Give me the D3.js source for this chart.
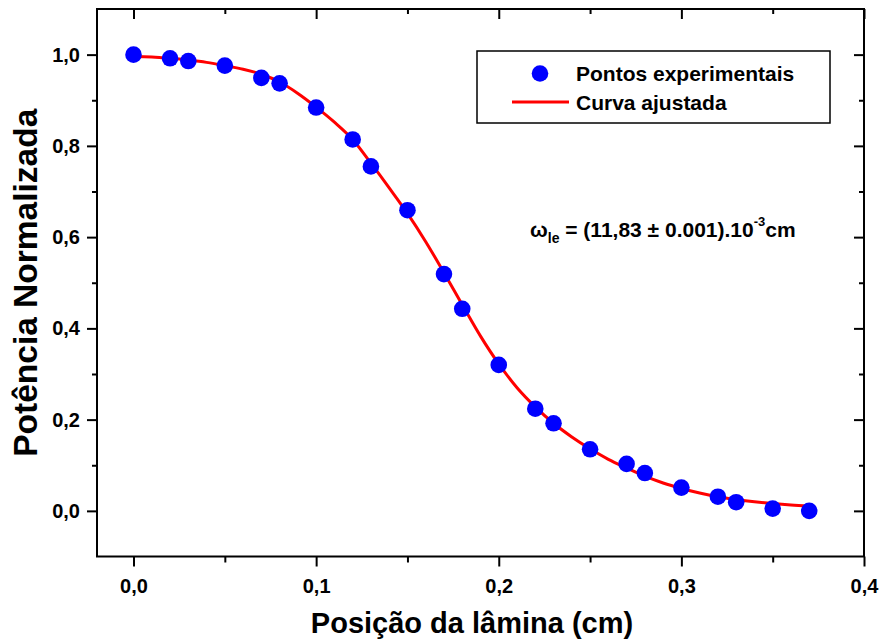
<!DOCTYPE html>
<html>
<head>
<meta charset="utf-8">
<script src="https://cdn.jsdelivr.net/npm/d3@7"></script>
<style>
  html, body { margin: 0; padding: 0; background: #fff; }
  svg { display: block; }
  text { font-family: "Liberation Sans", Arial, Helvetica, sans-serif; font-weight: bold; fill: #000; }
</style>
</head>
<body>
<svg id="chart" width="883" height="641"></svg>
<script>
// ---- data ----
const pointX = [0.00, 0.02, 0.03, 0.05, 0.07, 0.08, 0.10, 0.12, 0.13, 0.15, 0.17, 0.18,
                0.20, 0.22, 0.23, 0.25, 0.27, 0.28, 0.30, 0.32, 0.33, 0.35, 0.37];
const pointY = [1.000, 0.992, 0.986, 0.976, 0.949, 0.937, 0.884, 0.814, 0.755, 0.659, 0.519, 0.443,
                0.320, 0.224, 0.192, 0.135, 0.103, 0.083, 0.051, 0.031, 0.019, 0.005, 0.000];

const curveX = [0.00, 0.01, 0.02, 0.03, 0.04, 0.05, 0.06, 0.07, 0.08, 0.09, 0.10, 0.11, 0.12,
                0.13, 0.14, 0.15, 0.16, 0.17, 0.18, 0.19, 0.20, 0.21, 0.22, 0.23, 0.24, 0.25,
                0.26, 0.27, 0.28, 0.29, 0.30, 0.31, 0.32, 0.33, 0.34, 0.35, 0.36, 0.37];
const curveY = [0.996, 0.995, 0.992, 0.988, 0.983, 0.976, 0.968, 0.957, 0.940, 0.915, 0.885, 0.852, 0.814,
                0.762, 0.708, 0.652, 0.590, 0.522, 0.452, 0.383, 0.322, 0.270, 0.228, 0.192, 0.162, 0.136,
                0.113, 0.094, 0.076, 0.061, 0.049, 0.039, 0.031, 0.025, 0.020, 0.016, 0.013, 0.011];

const xMajorTicks = [0.0, 0.1, 0.2, 0.3, 0.4];
const xMinorTicks = [0.05, 0.15, 0.25, 0.35];
const yMajorTicks = [0.0, 0.2, 0.4, 0.6, 0.8, 1.0];
const yMinorTicks = [0.1, 0.3, 0.5, 0.7, 0.9];

const legendLabels = ["Pontos experimentais", "Curva ajustada"];
const xTitle = "Posição da lâmina (cm)";
const yTitle = "Potência Normalizada";

// ---- layout ----
const svg = d3.select("#chart");
const L = 97, R = 864, T = 9, B = 556.5;
const x = d3.scaleLinear().domain([-0.02, 0.4]).range([L, R]);
const y = d3.scaleLinear().domain([-0.1, 1.1]).range([B, T]);
const fmt = d => d3.format(".1f")(d).replace(".", ",");

function styleAxis(g) {
  g.select(".domain").remove();
  g.selectAll(".tick line").attr("stroke", "#000").attr("stroke-width", 2);
  g.selectAll("text").attr("font-size", 20).attr("font-weight", "bold")
    .attr("font-family", '"Liberation Sans", Arial, sans-serif').attr("fill", "#000");
}

// bottom axis (outward ticks)
svg.append("g").attr("transform", `translate(0,${B})`)
  .call(d3.axisBottom(x).tickValues(xMajorTicks).tickSize(10).tickPadding(12).tickFormat(fmt))
  .call(styleAxis);
svg.append("g").attr("transform", `translate(0,${B})`)
  .call(d3.axisBottom(x).tickValues(xMinorTicks).tickSize(6).tickFormat(""))
  .call(styleAxis);
// top axis (inward ticks)
svg.append("g").attr("transform", `translate(0,${T})`)
  .call(d3.axisTop(x).tickValues(xMajorTicks).tickSize(-10).tickFormat(""))
  .call(styleAxis);
svg.append("g").attr("transform", `translate(0,${T})`)
  .call(d3.axisTop(x).tickValues(xMinorTicks).tickSize(-5).tickFormat(""))
  .call(styleAxis);
// left axis (outward ticks)
svg.append("g").attr("transform", `translate(${L},0)`)
  .call(d3.axisLeft(y).tickValues(yMajorTicks).tickSize(10).tickPadding(7).tickFormat(fmt))
  .call(styleAxis);
svg.append("g").attr("transform", `translate(${L},0)`)
  .call(d3.axisLeft(y).tickValues(yMinorTicks).tickSize(5).tickFormat(""))
  .call(styleAxis);
// right axis (inward ticks)
svg.append("g").attr("transform", `translate(${R},0)`)
  .call(d3.axisRight(y).tickValues(yMajorTicks).tickSize(-10).tickFormat(""))
  .call(styleAxis);
svg.append("g").attr("transform", `translate(${R},0)`)
  .call(d3.axisRight(y).tickValues(yMinorTicks).tickSize(-5).tickFormat(""))
  .call(styleAxis);

// frame
svg.append("rect").attr("x", L).attr("y", T).attr("width", R - L).attr("height", B - T)
  .attr("fill", "none").attr("stroke", "#000").attr("stroke-width", 2);

// fitted curve
const curveData = curveX.map((v, i) => [v, curveY[i]]);
svg.append("path").datum(curveData)
  .attr("fill", "none").attr("stroke", "#ff0000").attr("stroke-width", 3)
  .attr("d", d3.line().x(d => x(d[0])).y(d => y(d[1])).curve(d3.curveMonotoneX));

// experimental points
const pts = pointX.map((v, i) => [v, pointY[i]]);
svg.append("g").selectAll("circle").data(pts).join("circle")
  .attr("cx", d => x(d[0])).attr("cy", d => y(d[1])).attr("r", 8.3)
  .attr("fill", "#0000ff");

// legend
const lg = svg.append("g");
lg.append("rect").attr("x", 477).attr("y", 51).attr("width", 353).attr("height", 72)
  .attr("fill", "#fff").attr("stroke", "#000").attr("stroke-width", 1.5);
lg.append("circle").attr("cx", 540).attr("cy", 73.5).attr("r", 8.3).attr("fill", "#0000ff");
lg.append("line").attr("x1", 512).attr("x2", 569).attr("y1", 102).attr("y2", 102)
  .attr("stroke", "#ff0000").attr("stroke-width", 3);
lg.append("text").attr("x", 576).attr("y", 81).attr("font-size", 21).text(legendLabels[0]);
lg.append("text").attr("x", 576).attr("y", 110).attr("font-size", 21).text(legendLabels[1]);

// annotation
const ann = svg.append("text").attr("x", 530).attr("y", 237).attr("font-size", 21);
ann.append("tspan").text("ω");
ann.append("tspan").attr("font-size", 14).attr("dy", 6).text("le");
ann.append("tspan").attr("dy", -6).text(" = (11,83 ± 0.001).10");
ann.append("tspan").attr("font-size", 13).attr("dy", -11).text("-3");
ann.append("tspan").attr("dy", 11).text("cm");

// axis titles
svg.append("text").attr("x", 472).attr("y", 633).attr("text-anchor", "middle")
  .attr("font-size", 29).text(xTitle);
svg.append("text").attr("transform", `translate(37,${(T + B) / 2}) rotate(-90)`)
  .attr("text-anchor", "middle").attr("font-size", 33.5).text(yTitle);
</script>
</body>
</html>
